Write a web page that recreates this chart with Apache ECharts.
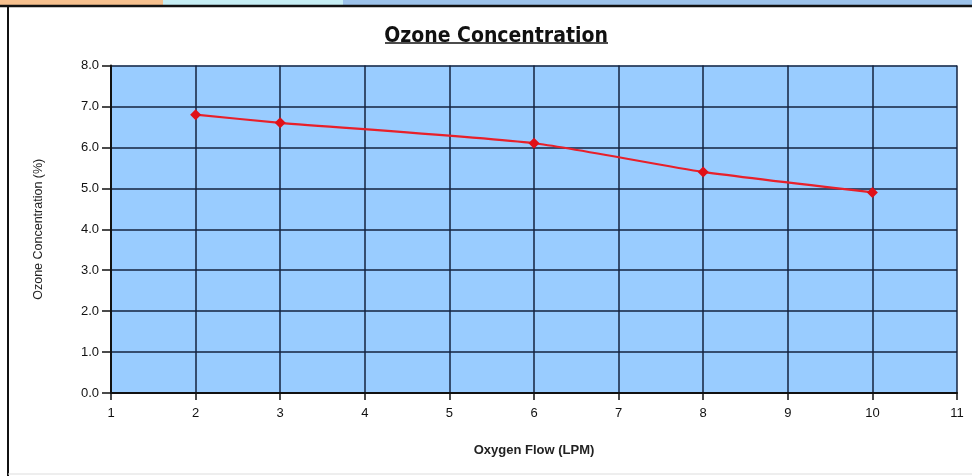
<!DOCTYPE html>
<html>
<head>
<meta charset="utf-8">
<script src="https://cdn.jsdelivr.net/npm/echarts@6/dist/echarts.min.js"></script>
<style>
  html, body { margin: 0; padding: 0; background: #fff; }
  #chart { width: 972px; height: 476px; }
</style>
</head>
<body>
<div id="chart"></div>
<script>
// data
const flowLpm = [2, 3, 6, 8, 10];
const ozonePct = [6.8, 6.6, 6.1, 5.4, 4.9];
const xTicks = [1, 2, 3, 4, 5, 6, 7, 8, 9, 10, 11];
const yTicks = [0, 1, 2, 3, 4, 5, 6, 7, 8];

const chart = echarts.init(document.getElementById('chart'));

const option = {
  animation: false,
  backgroundColor: '#fff',
  title: {
    text: 'Ozone Concentration',
    left: 491,
    top: 21,
    textAlign: 'center',
    textStyle: {
      fontFamily: 'DejaVu Sans Condensed, sans-serif',
      fontWeight: 'bold',
      fontSize: 21,
      color: '#111'
    }
  },
  grid: { left: 111, right: 15, top: 65.5, bottom: 83 },
  xAxis: {
    type: 'value',
    min: xTicks[0],
    max: xTicks[xTicks.length - 1],
    interval: 1,
    name: 'Oxygen Flow (LPM)',
    nameLocation: 'middle',
    nameGap: 51,
    nameTextStyle: { fontFamily: 'Liberation Sans, Arial, sans-serif', fontSize: 13, fontWeight: 'bold', color: '#222' },
    axisLine: { lineStyle: { color: '#111', width: 2 } },
    axisTick: { show: true, length: 7, lineStyle: { color: '#111', width: 1.5 } },
    axisLabel: { fontFamily: 'Liberation Sans, Arial, sans-serif', fontSize: 13, color: '#111', margin: 14 },
    splitLine: { show: true, lineStyle: { color: '#15233f', width: 1.5 } }
  },
  yAxis: {
    type: 'value',
    min: yTicks[0],
    max: yTicks[yTicks.length - 1],
    interval: 1,
    name: 'Ozone Concentration (%)',
    nameLocation: 'middle',
    nameGap: 66,
    nameTextStyle: { fontFamily: 'Liberation Sans, Arial, sans-serif', fontSize: 12.5, color: '#222' },
    axisLine: { show: true, lineStyle: { color: '#111', width: 2 } },
    axisTick: { show: true, length: 9, lineStyle: { color: '#111', width: 1.5 } },
    axisLabel: {
      fontFamily: 'Liberation Sans, Arial, sans-serif', fontSize: 13, color: '#111', margin: 12,
      formatter: v => v.toFixed(1)
    },
    splitLine: { show: true, lineStyle: { color: '#15233f', width: 1.5 } },
    splitArea: { show: true, areaStyle: { color: ['#99ccff', '#99ccff'] } }
  },
  series: [{
    type: 'line',
    data: flowLpm.map((x, i) => [x, ozonePct[i]]),
    smooth: 0.2,
    symbol: 'diamond',
    symbolSize: 11,
    lineStyle: { color: '#e8202a', width: 2.2 },
    itemStyle: { color: '#e01018' },
    z: 5
  }],
  graphic: [
    // top strip of the surrounding sheet
    { type: 'rect', shape: { x: 0, y: 0, width: 163, height: 5 }, style: { fill: '#f6c08e' } },
    { type: 'rect', shape: { x: 163, y: 0, width: 180, height: 5 }, style: { fill: '#c6eef4' } },
    { type: 'rect', shape: { x: 343, y: 0, width: 629, height: 5 }, style: { fill: '#9cc2ea' } },
    { type: 'line', shape: { x1: 0, y1: 6, x2: 972, y2: 6 }, style: { stroke: '#111', lineWidth: 2.5 } },
    { type: 'line', shape: { x1: 8, y1: 6, x2: 8, y2: 476 }, style: { stroke: '#111', lineWidth: 2 } },
    { type: 'line', shape: { x1: 8, y1: 474, x2: 972, y2: 474 }, style: { stroke: '#ddd', lineWidth: 1 } },
    // title underline
    { type: 'line', shape: { x1: 385, y1: 43, x2: 608, y2: 43 }, style: { stroke: '#111', lineWidth: 1.5 } }
  ]
};

chart.setOption(option);
</script>
</body>
</html>
